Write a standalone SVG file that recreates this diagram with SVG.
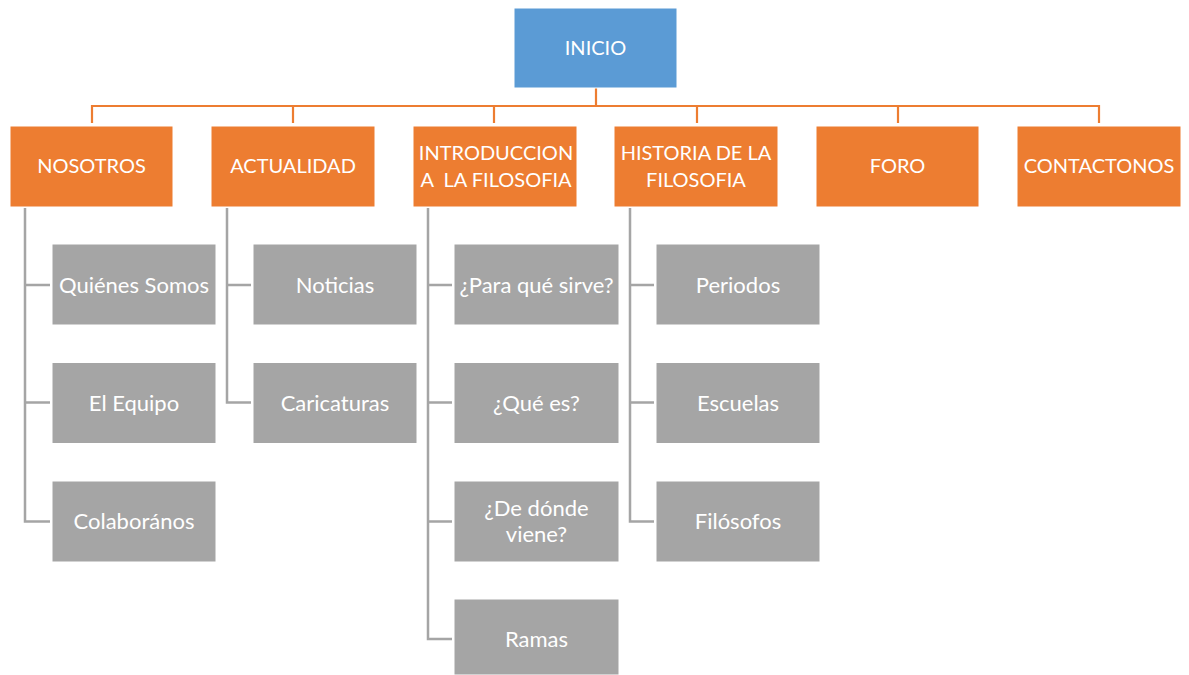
<svg xmlns="http://www.w3.org/2000/svg" width="1189" height="675" viewBox="0 0 1189 675">
<style>
.blue{fill:#5B9BD5;stroke:#ffffff;stroke-width:1}
.org{fill:#ED7D31;stroke:#ffffff;stroke-width:1}
.gry{fill:#A5A5A5;stroke:#ffffff;stroke-width:1}
text{font-family:Lato,"Open Sans","Liberation Sans",sans-serif;font-size:20px;fill:#ffffff;text-anchor:middle;dominant-baseline:central}
text.g{font-size:22px}
.oc{fill:none;stroke:#ED7D31;stroke-width:2.2}
.gc{fill:none;stroke:#A5A5A5;stroke-width:2.5}
</style>
<rect width="1189" height="675" fill="#ffffff"/>
<g id="connectors">
<path class="oc" d="M596,88 V106 M92,123 V106 H1099 V123 M293,106 V123 M494,106 V123 M697,106 V123 M898,106 V123"/>
<path class="gc" d="M25,208 V521.5 H50 M25,285 H50 M25,402.5 H50"/>
<path class="gc" d="M227,208 V402.5 H251 M227,285 H251"/>
<path class="gc" d="M428,208 V639 H452 M428,285 H452 M428,402.5 H452 M428,521.5 H452"/>
<path class="gc" d="M630,208 V521.5 H654 M630,285 H654 M630,402.5 H654"/>
</g>
<g id="inicio"><rect class="blue" x="514" y="8" width="163" height="80"/><text x="595.5" y="47">INICIO</text></g>
<g id="nosotros"><rect class="org" x="10" y="126" width="163" height="81"/><text x="91.5" y="165">NOSOTROS</text></g>
<g id="actualidad"><rect class="org" x="211" y="126" width="164" height="81"/><text x="293" y="165">ACTUALIDAD</text></g>
<g id="introduccion"><rect class="org" x="413" y="126" width="164" height="81"/><text x="496" y="152">INTRODUCCION</text><text x="496" y="179" xml:space="preserve">A  LA FILOSOFIA</text></g>
<g id="historia"><rect class="org" x="614" y="126" width="164" height="81"/><text x="696" y="152">HISTORIA DE LA</text><text x="696" y="179">FILOSOFIA</text></g>
<g id="foro"><rect class="org" x="816" y="126" width="163" height="81"/><text x="897.5" y="165">FORO</text></g>
<g id="contactonos"><rect class="org" x="1017" y="126" width="164" height="81"/><text x="1099" y="165">CONTACTONOS</text></g>
<g id="quienes"><rect class="gry" x="52" y="244" width="164" height="81"/><text class="g" x="134" y="284">Quiénes Somos</text></g>
<g id="equipo"><rect class="gry" x="52" y="362.5" width="164" height="81"/><text class="g" x="134" y="402">El Equipo</text></g>
<g id="colaboranos"><rect class="gry" x="52" y="481" width="164" height="81"/><text class="g" x="134" y="520">Colaborános</text></g>
<g id="noticias"><rect class="gry" x="253" y="244" width="164" height="81"/><text class="g" x="335" y="284">Noticias</text></g>
<g id="caricaturas"><rect class="gry" x="253" y="362.5" width="164" height="81"/><text class="g" x="335" y="402">Caricaturas</text></g>
<g id="para"><rect class="gry" x="454" y="244" width="165" height="81"/><text class="g" x="536.5" y="284">¿Para qué sirve?</text></g>
<g id="quees"><rect class="gry" x="454" y="362.5" width="165" height="81"/><text class="g" x="536.5" y="402">¿Qué es?</text></g>
<g id="dedonde"><rect class="gry" x="454" y="481" width="165" height="81"/><text class="g" x="536.5" y="507">¿De dónde</text><text class="g" x="536.5" y="533">viene?</text></g>
<g id="ramas"><rect class="gry" x="454" y="599" width="165" height="76"/><text class="g" x="536.5" y="638">Ramas</text></g>
<g id="periodos"><rect class="gry" x="656" y="244" width="164" height="81"/><text class="g" x="738" y="284">Periodos</text></g>
<g id="escuelas"><rect class="gry" x="656" y="362.5" width="164" height="81"/><text class="g" x="738" y="402">Escuelas</text></g>
<g id="filosofos"><rect class="gry" x="656" y="481" width="164" height="81"/><text class="g" x="738" y="520">Filósofos</text></g>
</svg>
